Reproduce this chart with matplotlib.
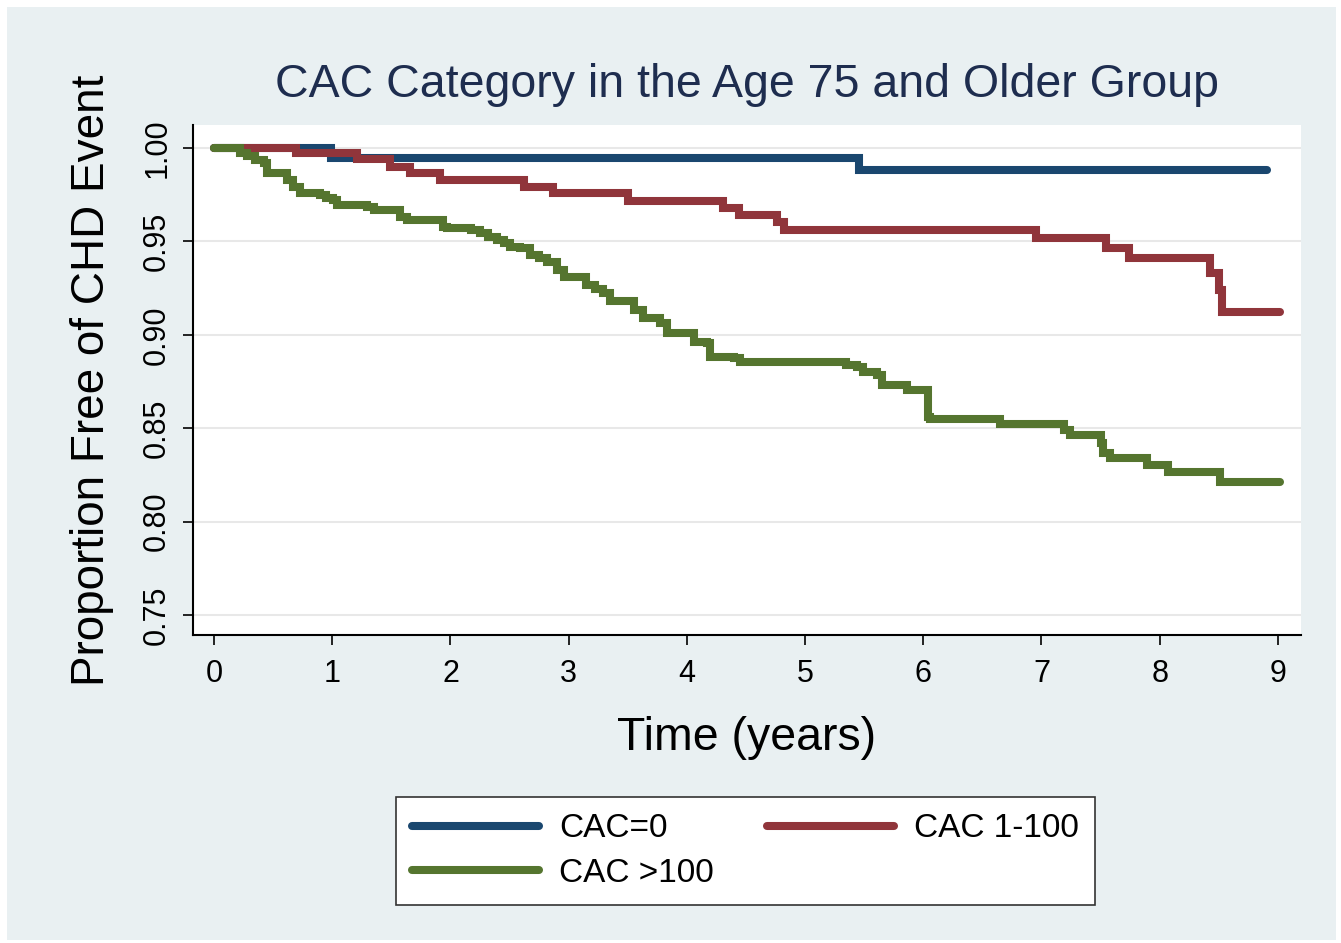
import numpy as np
import matplotlib
matplotlib.use('Agg')
import matplotlib.pyplot as plt
from matplotlib.patches import Rectangle

plt.rcParams['font.family'] = ['Liberation Sans', 'DejaVu Sans']

# Kaplan-Meier steps (time in years, proportion free)
t_cac0 = [0, 0.99, 5.46, 8.91]
s_cac0 = [1.0, 0.9948, 0.9882, 0.9882]

t_cac1 = [0, 0.69, 1.21, 1.49, 1.66, 1.91, 2.62, 2.87, 3.50, 4.31, 4.44,
          4.76, 4.82, 6.95, 7.55, 7.74, 8.43, 8.50, 8.53, 9.02]
s_cac1 = [1.0, 0.9972, 0.9940, 0.9900, 0.9865, 0.9829, 0.9793, 0.9757,
          0.9716, 0.9677, 0.9641, 0.9606, 0.9561, 0.9517, 0.9463, 0.9410,
          0.9330, 0.9240, 0.9124, 0.9124]

t_cac2 = [0, 0.22, 0.28, 0.35, 0.42, 0.45, 0.62, 0.67, 0.73, 0.90, 0.95,
          1.01, 1.04, 1.29, 1.35, 1.57, 1.63, 1.94, 1.97, 2.17, 2.25, 2.32,
          2.39, 2.45, 2.50, 2.59, 2.67, 2.75, 2.82, 2.90, 2.96, 3.15, 3.22,
          3.29, 3.35, 3.55, 3.63, 3.77, 3.83, 4.06, 4.17, 4.20, 4.40, 4.45,
          5.35, 5.44, 5.49, 5.61, 5.65, 5.86, 6.04, 6.06, 6.65, 7.19, 7.24,
          7.50, 7.52, 7.58, 7.89, 8.07, 8.51, 9.02]
s_cac2 = [1.0, 0.9972, 0.9955, 0.9936, 0.9918, 0.9865, 0.9829, 0.9793,
          0.9757, 0.9748, 0.9731, 0.9722, 0.9695, 0.9686, 0.9668, 0.9632,
          0.9615, 0.9579, 0.9570, 0.9561, 0.9543, 0.9525, 0.9507, 0.9490,
          0.9472, 0.9463, 0.9427, 0.9409, 0.9391, 0.9347, 0.9311, 0.9267,
          0.9245, 0.9222, 0.9180, 0.9133, 0.9088, 0.9061, 0.9008, 0.8963,
          0.8954, 0.8883, 0.8874, 0.8856, 0.8838, 0.8829, 0.8802, 0.8785,
          0.8731, 0.8705, 0.8562, 0.8548, 0.8525, 0.8490, 0.8464, 0.8420,
          0.8366, 0.8340, 0.8303, 0.8267, 0.8214, 0.8214]

labels = ['CAC=0', 'CAC 1-100', 'CAC >100']
colors = ['#1a476f', '#90353b', '#55752f']
xticks = list(range(0, 10))
yticks = [0.75, 0.80, 0.85, 0.90, 0.95, 1.00]

W, H = 1341, 943
fig = plt.figure(figsize=(W / 100, H / 100), dpi=100, facecolor='white')
fig.patches.append(Rectangle((7 / W, 3 / H), 1 - 12 / W, 1 - 10 / H,
                             transform=fig.transFigure, facecolor='#e9f0f2',
                             edgecolor='none', zorder=-10))

ax = fig.add_axes([193 / W, 1 - 635 / H, (1301 - 193) / W, (635 - 125) / H])
ax.set_facecolor('white')

lines = []
for t, s, lab, c in zip([t_cac0, t_cac1, t_cac2], [s_cac0, s_cac1, s_cac2],
                        labels, colors):
    ln, = ax.plot(t, s, drawstyle='steps-post', color=c, lw=5.8,
                  label=lab, solid_capstyle='round', solid_joinstyle='miter')
    lines.append(ln)

ax.set_xlim(-0.178, 9.196)
ax.set_ylim(0.7393, 1.0123)
ax.set_xticks(xticks)
ax.set_yticks(yticks)
ax.set_yticklabels(['%.2f' % v for v in yticks], rotation=90, va='center')
ax.tick_params(axis='both', labelsize=22, length=7, width=1.2,
               direction='out', colors='black')
ax.tick_params(axis='x', pad=10)
ax.tick_params(axis='y', pad=8)
ax.grid(axis='y', color='#e8e8e8', lw=1.5)
ax.set_axisbelow(True)
for side in ['top', 'right']:
    ax.spines[side].set_visible(False)
for side in ['left', 'bottom']:
    ax.spines[side].set_linewidth(1.5)

ax.set_xlabel('Time (years)', fontsize=33.5, labelpad=20)
ax.set_ylabel('Proportion Free of CHD Event', fontsize=33, labelpad=20)
ax.set_title('CAC Category in the Age 75 and Older Group', fontsize=33.5,
             color='#1e2d4f', pad=20)

# row-wise order in a two column legend
order = [0, 2, 1]
leg = fig.legend([lines[i] for i in order], [labels[i] for i in order],
                 ncol=2, loc='center',
                 bbox_to_anchor=(745.5 / W, 1 - 851 / H),
                 fontsize=24, frameon=True, fancybox=False,
                 edgecolor='#333333', facecolor='white', framealpha=1,
                 handlelength=3.8, handletextpad=0.6, columnspacing=1.6,
                 labelspacing=0.4, borderpad=0.5)
leg.get_frame().set_linewidth(1.2)

fig.savefig('out.png', dpi=100, facecolor=fig.get_facecolor())
